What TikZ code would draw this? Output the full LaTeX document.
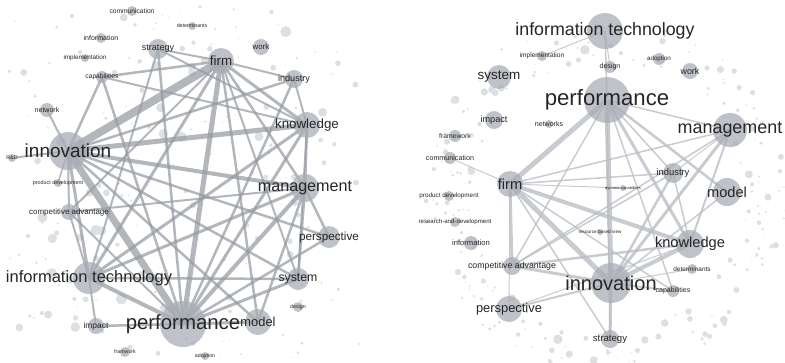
\documentclass[tikz,border=0pt]{standalone}
\usepackage{fontspec}
\setmainfont{Liberation Sans}
\usetikzlibrary{backgrounds}
\definecolor{Ink}{HTML}{262626}
\definecolor{NodeGray}{HTML}{A9AEB5}
\definecolor{EdgeDark}{HTML}{959BA2}
\definecolor{EdgeLight}{HTML}{BABEC3}
\definecolor{Speck}{HTML}{DDE0E3}

\begin{document}
\begin{tikzpicture}[x=0.3mm,y=-0.3mm,
      vert/.style={circle,inner sep=0pt,fill=NodeGray,fill opacity=.75,minimum size=#1*0.3mm},
      lab/.style={font=\fontsize{#1}{#1}\selectfont,text=Ink,inner sep=0pt,fill opacity=1,text opacity=1},
      linkL/.style={draw=EdgeDark,draw opacity=.72,line width=#1*0.3mm},
      linkR/.style={draw=EdgeLight,draw opacity=.8,line width=#1*0.3mm}]
  \useasboundingbox (0,0) rectangle (785,362);
  % left network
  \node[vert=10,label={[lab=5.7]center:communication}] (Lcomm) at (132,11) {};
  \node[vert=8,label={[lab=4.5]center:determinants}] (Ldet) at (192,26) {};
  \node[vert=10,label={[lab=6]center:information}] (Linfo) at (101,38) {};
  \node[vert=20,label={[lab=7.7]center:strategy}] (Lstrat) at (158,49) {};
  \node[vert=8,label={[lab=5.4]center:implementation}] (Limpl) at (85,58) {};
  \node[vert=12,label={[lab=5.7]center:capabilities}] (Lcap) at (102,77) {};
  \node[vert=14,label={[lab=6]center:network}] (Lnet) at (47,110) {};
  \node[vert=38,label={[lab=16.2]center:innovation}] (Linno) at (68,151) {};
  \node[vert=8,label={[lab=4.5]center:R\&D}] (Lrd) at (12,158) {};
  \node[vert=8,label={[lab=4.6]center:product development}] (Lprod) at (58,183) {};
  \node[vert=16,label={[lab=6.8]center:competitive advantage}] (Lcomp) at (69,212) {};
  \node[vert=26,label={[lab=11.4]center:firm}] (Lfirm) at (221,61) {};
  \node[vert=16,label={[lab=6.7]center:work}] (Lwork) at (261,47) {};
  \node[vert=18,label={[lab=7.8]center:industry}] (Lind) at (294,79) {};
  \node[vert=26,label={[lab=11.4]center:knowledge}] (Lknow) at (307,125) {};
  \node[vert=28,label={[lab=13.8]center:management}] (Lmgmt) at (305,188) {};
  \node[vert=22,label={[lab=10]center:perspective}] (Lpers) at (329,237) {};
  \node[vert=22,label={[lab=10.5]center:system}] (Lsys) at (298,279) {};
  \node[vert=10,label={[lab=4.5]center:design}] (Ldes) at (298,307) {};
  \node[vert=26,label={[lab=11]center:model}] (Lmodel) at (258,322) {};
  \node[vert=8,label={[lab=4.5]center:adoption}] (Lado) at (205,356) {};
  \node[vert=32,label={[lab=14.1]center:information technology}] (Lit) at (89,278) {};
  \node[vert=16,label={[lab=7.2]center:impact}] (Limp) at (96,326) {};
  \node[vert=10,label={[lab=4.5]center:framwork}] (Lfram) at (125,352) {};
  \node[vert=46,label={[lab=17.4]center:performance}] (Lperf) at (183,324) {};
  % right network
  \node[vert=36,label={[lab=15.2]center:information technology}] (Rit) at (605,31) {};
  \node[vert=10,label={[lab=5.6]center:implementation}] (Rimpl) at (542,56) {};
  \node[vert=12,label={[lab=6]center:design}] (Rdes) at (610,67) {};
  \node[vert=12,label={[lab=5.3]center:adoption}] (Rado) at (659,59) {};
  \node[vert=16,label={[lab=7.6]center:work}] (Rwork) at (690,71) {};
  \node[vert=24,label={[lab=11.5]center:system}] (Rsys) at (499,77) {};
  \node[vert=46,label={[lab=18.9]center:performance}] (Rperf) at (607,100) {};
  \node[vert=34,label={[lab=15.3]center:management}] (Rmgmt) at (730,130) {};
  \node[vert=18,label={[lab=7.8]center:impact}] (Rimp) at (494,120) {};
  \node[vert=8,label={[lab=6]center:networks}] (Rnetw) at (549,124) {};
  \node[vert=12,label={[lab=5.8]center:framework}] (Rfram) at (455,136) {};
  \node[vert=12,label={[lab=6.1]center:communication}] (Rcomm) at (450,158) {};
  \node[vert=26,label={[lab=12.5]center:firm}] (Rfirm) at (510,184) {};
  \node[vert=20,label={[lab=8]center:industry}] (Rind) at (673,173) {};
  \node[vert=6,label={[lab=3.4]center:dynamic capabilities}] (Rdyn) at (623,188) {};
  \node[vert=28,label={[lab=12.5]center:model}] (Rmodel) at (727,192) {};
  \node[vert=10,label={[lab=5.4]center:product development}] (Rprod) at (449,196) {};
  \node[vert=10,label={[lab=5.2]center:research-and-development}] (Rrd) at (455,222) {};
  \node[vert=6,label={[lab=4]center:resource based view}] (Rrbv) at (600,232) {};
  \node[vert=14,label={[lab=6.5]center:information}] (Rinfo) at (471,243) {};
  \node[vert=28,label={[lab=12.5]center:knowledge}] (Rknow) at (690,244) {};
  \node[vert=18,label={[lab=7.5]center:competitive advantage}] (Rcomp) at (512,266) {};
  \node[vert=10,label={[lab=5.5]center:determinants}] (Rdet) at (692,269) {};
  \node[vert=40,label={[lab=17.1]center:innovation}] (Rinno) at (611,283) {};
  \node[vert=12,label={[lab=6]center:capabilities}] (Rcap) at (673,291) {};
  \node[vert=26,label={[lab=11]center:perspective}] (Rpers) at (509,309) {};
  \node[vert=18,label={[lab=8.2]center:strategy}] (Rstrat) at (610,339) {};

  \begin{scope}[on background layer]
    % faint specks
    \pgfmathsetseed{7}
    \foreach \i in {1,...,200}{
      \pgfmathsetmacro\dx{8+rnd*352}
      \pgfmathsetmacro\dy{4+rnd*354}
      \pgfmathsetmacro\dr{0.6+rnd*rnd*5.5}
      \fill[Speck] (\dx,\dy) circle[radius=\dr];
    }
    \foreach \i in {1,...,260}{
      \pgfmathsetmacro\da{rnd*360}
      \pgfmathsetmacro\dd{135+rnd*45}
      \pgfmathsetmacro\dr{0.5+rnd*rnd*4.5}
      \fill[Speck] (606,195) ++(\da:\dd) circle[radius=\dr];
    }
    % left links
    \foreach \a/\b/\w in {Linno/Lfirm/8, Linno/Lperf/7, Linno/Lknow/5, Linno/Lmgmt/4,
        Linno/Lpers/2.5, Linno/Lsys/2.5, Linno/Lmodel/2.5, Linno/Lit/3, Linno/Lcomp/2,
        Linno/Lnet/2, Linno/Lrd/2, Linno/Lcap/2.5, Linno/Lind/2.5, Linno/Lprod/1.5,
        Lfirm/Lperf/5, Lfirm/Lit/3, Lfirm/Lcap/2.5, Lfirm/Lstrat/2, Lfirm/Lknow/3,
        Lfirm/Lmgmt/2.5, Lfirm/Lsys/2, Lfirm/Lmodel/2.5, Lfirm/Lind/2, Lfirm/Lcomp/2,
        Lperf/Lknow/3, Lperf/Lmgmt/4, Lperf/Lpers/2.5, Lperf/Lsys/3, Lperf/Lmodel/3,
        Lperf/Lit/4, Lperf/Limp/2.5, Lperf/Lstrat/2.5, Lperf/Lcap/2.5, Lperf/Lind/2.5,
        Lperf/Lcomp/2, Lknow/Lmgmt/2.5, Lknow/Lit/3, Lknow/Lind/2, Lknow/Lsys/2,
        Lknow/Lcap/2, Lmgmt/Lit/3, Lmgmt/Lpers/2.5, Lmgmt/Lsys/2.5, Lmgmt/Lmodel/2.5,
        Lmgmt/Lcomp/2, Lit/Limp/2, Lit/Lcomp/2, Lit/Lsys/2.5, Lit/Lstrat/2, Lstrat/Lknow/2}
      \draw[linkL=\w] (\a.center) -- (\b.center);
    % right links
    \foreach \a/\b/\w in {Rperf/Rfirm/5, Rperf/Rinno/5, Rperf/Rknow/3, Rperf/Rmodel/2.5,
        Rperf/Rmgmt/1.5, Rperf/Rind/1.5, Rperf/Rcomp/1.5, Rperf/Rcap/1.5, Rperf/Rstrat/1.5,
        Rperf/Rit/1.5, Rit/Rdes/1, Rit/Rimpl/1,
        Rfirm/Rinno/5, Rfirm/Rknow/4, Rfirm/Rmgmt/1.5, Rfirm/Rind/1.5, Rfirm/Rcomp/3,
        Rfirm/Rstrat/1.5, Rfirm/Rcap/1.5, Rfirm/Rcomm/1, Rfirm/Rpers/1, Rfirm/Rdyn/1,
        Rinno/Rknow/4, Rinno/Rmgmt/3, Rinno/Rind/2.5, Rinno/Rcomp/3, Rinno/Rpers/2,
        Rinno/Rstrat/3, Rinno/Rcap/2, Rinno/Rmodel/1.5, Rinno/Rdet/1,
        Rknow/Rcomp/2.5, Rknow/Rmgmt/2, Rknow/Rind/1.5, Rknow/Rpers/1,
        Rmgmt/Rcomp/1.5, Rmgmt/Rind/1, Rind/Rcomp/1.5}
      \draw[linkR=\w] (\a.center) -- (\b.center);
  \end{scope}
\end{tikzpicture}
\end{document}
